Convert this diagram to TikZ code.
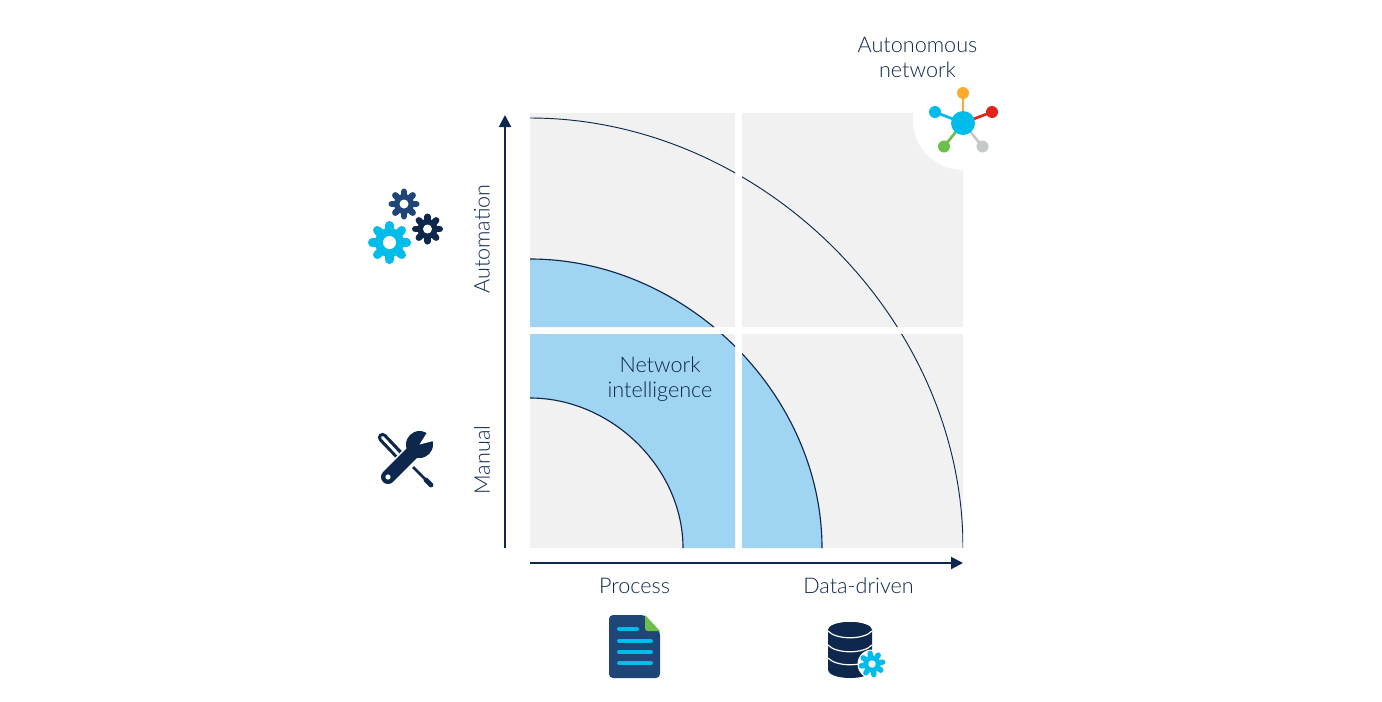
\documentclass[tikz,border=0pt]{standalone}
\usepackage{fontspec}
\setmainfont{Lato}[UprightFont=* Light]
\usetikzlibrary{arrows.meta}
\definecolor{navy}{HTML}{0D274D}
\definecolor{midblue}{HTML}{1F4676}
\definecolor{cyanb}{HTML}{00BCEB}
\definecolor{bandblue}{HTML}{9FD4F2}
\definecolor{quadgrey}{HTML}{F1F1F1}
\definecolor{leafgreen}{HTML}{6CC04A}
\definecolor{orangeb}{HTML}{FBAB2C}
\definecolor{redb}{HTML}{E2231A}
\definecolor{greyb}{HTML}{C6C9CA}
\tikzset{
  lbl/.style={text=navy,font=\fontsize{16.2pt}{18.75pt}\selectfont,align=center,inner sep=0pt},
  axis/.style={draw=navy,line width=1.5pt,-{Triangle[length=9pt,width=9pt]}},
  arcline/.style={draw=navy,line width=.7pt},
  spoke/.style={line cap=round,line width=#1*0.75pt},
  doclin/.style={draw=cyanb,line cap=round,line width=3pt},
  link/.style={line width=2pt},
}
% cx, cy, outer radius, body radius, hole radius, spoke width, colour, hole colour, rotation
\newcommand{\gearicon}[9]{%
  \begin{scope}[shift={(#1,#2)},rotate=#9]
    \fill[#7] (0,0) circle[radius=#4];
    \foreach \a in {0,45,...,315}
      \draw[#7,spoke=#6] (0,0) -- (\a:#3-#6/2);
    \fill[#8] (0,0) circle[radius=#5];
  \end{scope}}
\begin{document}
\begin{tikzpicture}[x=0.75pt,y=-0.75pt]
\useasboundingbox (0,0) rectangle (1382,701);
\fill[white] (0,0) rectangle (1382,701);
% quadrants
\fill[quadgrey] (530,113) rectangle (735,327);
\fill[quadgrey] (742,113) rectangle (963,327);
\fill[quadgrey] (530,334) rectangle (735,548);
\fill[quadgrey] (742,334) rectangle (963,548);
\begin{scope}
  \clip (530,113) rectangle (735,327) (742,113) rectangle (963,327)
        (530,334) rectangle (735,548) (742,334) rectangle (963,548);
  \fill[bandblue] (822,548) .. controls (822,394) and (685.6,259) .. (530,259)
        -- (530,398) .. controls (611.5,398) and (683,468) .. (683,548) -- cycle;
  \draw[arcline] (963,548) .. controls (963,318.8) and (760.8,118) .. (530,118);
  \draw[arcline,line width=.85pt] (822,548) .. controls (822,394) and (685.6,259) .. (530,259);
  \draw[arcline,line width=.85pt] (683,548) .. controls (683,468) and (611.5,398) .. (530,398);
\end{scope}
% axes
\coordinate (ybase) at (505,548);
\coordinate (ytip) at (505,115);
\coordinate (xbase) at (530,563);
\coordinate (xtip) at (963,563);
\draw[axis] (ybase) -- (ytip);
\draw[axis] (xbase) -- (xtip);
% autonomous icon
\fill[white] (963,120) circle[radius=50];
\draw[orangeb,link] (963,123) -- (963,93);
\draw[redb,link] (963,123) -- (992,112);
\draw[cyanb,link] (963,123) -- (935,112);
\draw[leafgreen,link] (963,123) -- (944,146.5);
\draw[greyb,link] (963,123) -- (982.5,146.5);
\fill[cyanb] (963,123) circle[radius=12];
\fill[orangeb] (963,93) circle[radius=6];
\fill[redb] (992,112) circle[radius=6];
\fill[cyanb] (935,112) circle[radius=6];
\fill[leafgreen] (944,146.5) circle[radius=6];
\fill[greyb] (982.5,146.5) circle[radius=6];
% labels
\node[lbl] (auto) at (917.5,57.5) {Autonomous\\network};
\node[lbl] (netint) at (660,379) {Network\\intelligence};
\node[lbl] (process) at (634.5,586) {Process};
\node[lbl] (data) at (858.5,586) {Data-driven};
\node[lbl,rotate=90] (automation) at (482,239) {Automation};
\node[lbl,rotate=90] (manual) at (482,460) {Manual};
% gears
\gearicon{404}{204}{15.5}{10}{4.5}{6.5}{midblue}{white}{0}
\gearicon{427.5}{229}{15.5}{10}{4.5}{6.5}{navy}{white}{0}
\gearicon{389.5}{242.5}{21.5}{14.5}{6.5}{8.5}{cyanb}{white}{0}
% tools: screwdriver
\draw[navy,line width=7pt,line cap=round] (382.5,437.5) -- (402,458);
\draw[white,line width=2.2pt,line cap=round] (382.5,437.5) -- (398,454);
\draw[navy,line width=1.9pt] (413,467) -- (428,482);
\draw[navy,line width=3.6pt,line cap=round] (426,480) -- (431,485);
% tools: wrench
\draw[white,line width=13pt] (393,472) -- (416,449);
\draw[navy,line width=10.5pt,line cap=round] (388,477) -- (416,449);
\fill[navy] (419.5,444.5) circle[radius=13.5];
\fill[white] (419.5,444.5) -- (428,431) -- (437,440) -- cycle;
\fill[white] (388,477) circle[radius=2.6];
% document
\fill[midblue,rounded corners=3pt] (609,615) -- (645,615) -- (660,631) -- (660,678) -- (609,678) -- cycle;
\fill[white] (645,615) -- (661,615) -- (661,632) -- (660,632) -- cycle;
\fill[leafgreen] (645,615) -- (660,631) -- (648,631) .. controls (646,631) and (645,630) .. (645,628) -- cycle;
\draw[doclin] (619,629) -- (637,629);
\draw[doclin] (619,641) -- (651,641);
\draw[doclin] (619,652) -- (651,652);
\draw[doclin] (619,663) -- (651,663);
% database
\fill[navy] (828,630) arc[start angle=180,end angle=360,x radius=22,y radius=8] -- (872,670)
  arc[start angle=0,end angle=180,x radius=22,y radius=8] -- cycle;
\fill[navy] (850,630) ellipse[x radius=22,y radius=8];
\draw[white,line width=.9pt] (828,631) .. controls (836,640) and (864,640) .. (872,631);
\draw[white,line width=.9pt] (828,645) .. controls (836,654) and (864,654) .. (872,645);
\draw[white,line width=.9pt] (828,658) .. controls (836,667) and (864,667) .. (872,658);
\fill[white] (872,664) circle[radius=14.5];
\gearicon{872}{664}{13.5}{8.5}{3.8}{5.5}{cyanb}{quadgrey}{10}
\end{tikzpicture}
\end{document}
